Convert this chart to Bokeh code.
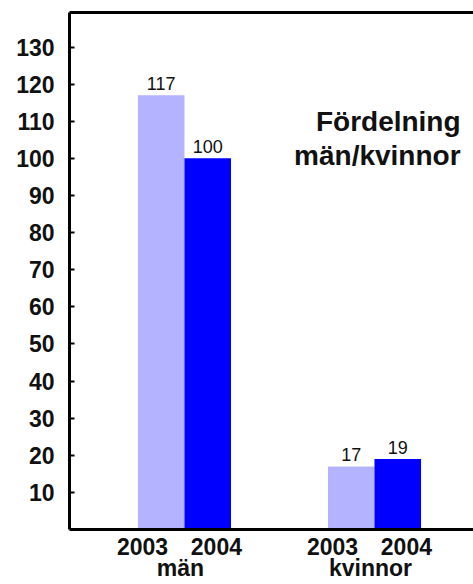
from bokeh.plotting import figure
from bokeh.models import (ColumnDataSource, Range1d, LinearAxis, FixedTicker, Label,
                          AllLabels)
from bokeh.core.properties import value
from bokeh.embed import file_html
from bokeh.resources import INLINE

# ---- data ----
groups = ["män", "kvinnor"]
years = ["2003", "2004"]
values_2003 = [117, 17]
values_2004 = [100, 19]
y_ticks = [10, 20, 30, 40, 50, 60, 70, 80, 90, 100, 110, 120, 130]
title_lines = ["Fördelning", "män/kvinnor"]

# ---- layout parameters ----
bar_w = 0.245
bar_off = 0.1224
year_label_off = [-0.221, 0.168]
group_label_off = -0.021
FONT = "Liberation Sans"

gx = list(range(len(groups)))

p = figure(width=473, height=584, output_backend="svg", toolbar_location=None,
           x_range=Range1d(-0.605, 1.521), y_range=Range1d(0, 139.3),
           min_border_left=69, min_border_right=0, min_border_top=12,
           min_border_bottom=50, x_axis_type=None, y_axis_type=None)
p.outline_line_color = None
p.grid.visible = False
p.background_fill_color = "white"
p.border_fill_color = "white"

src = ColumnDataSource(dict(
    x3=[g - bar_off for g in gx], x4=[g + bar_off for g in gx],
    v3=values_2003, v4=values_2004,
    t3=[str(v) for v in values_2003], t4=[str(v) for v in values_2004]))

p.vbar(x="x3", top="v3", bottom=0, width=bar_w, source=src,
       fill_color="#b3b3ff", line_color=None)
p.vbar(x="x4", top="v4", bottom=0, width=bar_w, source=src,
       fill_color="#0000ff", line_color=None)

for xs, ts, vs in (("x3", "t3", "v3"), ("x4", "t4", "v4")):
    p.text(x=xs, y=vs, text=ts, source=src, text_align="center",
           text_baseline="bottom", y_offset=-5, text_font=value(FONT),
           text_font_size="18px", text_color="#111111")

# y axis
yax = LinearAxis(ticker=FixedTicker(ticks=y_ticks))
yax.axis_line_width = 3
yax.major_tick_in = 5
yax.major_tick_out = 0
yax.major_tick_line_width = 2
yax.minor_tick_line_color = None
yax.major_label_standoff = 15
yax.major_label_text_font = FONT
yax.major_label_text_font_style = "bold"
yax.major_label_text_font_size = "23px"
yax.major_label_text_color = "#111111"
p.add_layout(yax, "left")

# top frame line
tax = LinearAxis(ticker=FixedTicker(ticks=[]))
tax.axis_line_width = 3
tax.major_tick_in = 0
tax.major_tick_out = 0
tax.minor_tick_line_color = None
p.add_layout(tax, "above")

# x axis: year labels on the first line, group names on a second line
x_ticks = []
x_over = {}
for g, name in zip(gx, groups):
    for k, yr in enumerate(years):
        t = g + year_label_off[k]
        x_ticks.append(t)
        x_over[t] = yr
    tg = g + group_label_off
    x_ticks.append(tg)
    x_over[tg] = "\n" + name
xax = LinearAxis(ticker=FixedTicker(ticks=x_ticks), major_label_overrides=x_over)
xax.major_label_policy = AllLabels()
xax.axis_line_width = 3
xax.major_tick_in = 0
xax.major_tick_out = 0
xax.major_tick_line_color = None
xax.minor_tick_line_color = None
xax.major_label_standoff = 4
xax.major_label_text_line_height = 0.84
xax.major_label_text_font = FONT
xax.major_label_text_font_style = "bold"
xax.major_label_text_font_size = "23px"
xax.major_label_text_color = "#111111"
p.add_layout(xax, "below")

# title inside plot
for line, yv in zip(title_lines, [110.0, 100.7]):
    p.add_layout(Label(x=1.453, y=yv, text=line, text_align="right",
                       text_baseline="alphabetic", text_font=FONT,
                       text_font_style="bold", text_font_size="28px",
                       text_color="#111111"))

open("out.html", "w").write(file_html(p, INLINE))
